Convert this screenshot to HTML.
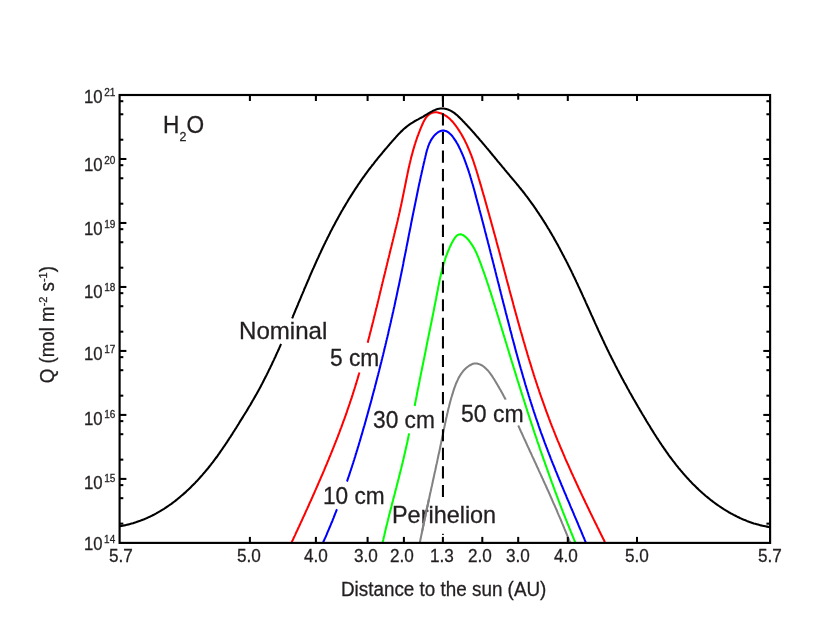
<!DOCTYPE html><html><head><meta charset="utf-8"><title>H2O sublimation</title><style>
html,body{margin:0;padding:0;background:#fff}
body{width:817px;height:632px;position:relative;overflow:hidden;font-family:"Liberation Sans",sans-serif;color:#231f20}
#txt{position:absolute;left:0;top:0;width:817px;height:632px;will-change:transform}
.t{position:absolute;white-space:nowrap;line-height:1;margin:0;padding:0;transform-origin:0 0;-webkit-text-stroke:0.3px #231f20}
</style></head><body>
<svg width="817" height="632" viewBox="0 0 817 632" style="position:absolute;left:0;top:0">
<rect width="817" height="632" fill="#fff"/>
<clipPath id="cp"><rect x="119.60" y="95.00" width="650.50" height="448.70"/></clipPath>
<g clip-path="url(#cp)">
<path d="M419.8 542.7 L420.1 541.3 L420.4 539.8 L420.7 538.3 L421.0 536.9 L421.3 535.4 L421.6 534.0 L421.9 532.5 L422.2 531.1 L422.5 529.6 L422.8 528.1 L423.1 526.7 L423.4 525.2 L423.7 523.7 L424.0 522.3 L424.3 520.8 L424.6 519.3 L424.9 517.9 L425.3 516.4 L425.6 514.9 L425.9 513.5 L426.2 512.0 L426.5 510.5 L426.8 509.0 L427.1 507.6 L427.5 506.1 L427.8 504.6 L428.1 503.2 L428.4 501.7 L428.7 500.2 L429.1 498.7 L429.4 497.2 L429.7 495.8 L430.0 494.3 L430.3 492.8 L430.7 491.3 L431.0 489.9 L431.3 488.4 L431.6 486.9 L432.0 485.4 L432.3 484.0 L432.6 482.5 L432.9 481.0 L433.2 479.5 L433.6 478.1 L433.9 476.6 L434.2 475.1 L434.5 473.6 L434.8 472.2 L435.2 470.7 L435.5 469.2 L435.8 467.7 L436.1 466.3 L436.4 464.8 L436.8 463.3 L437.1 461.9 L437.4 460.4 L437.7 458.9 L438.0 457.5 L438.3 456.0 L438.6 454.5 L439.0 453.1 L439.3 451.6 L439.6 450.1 L439.9 448.7 L440.2 447.2 L440.5 445.8 L440.8 444.3 L441.1 442.9 L441.4 441.4 L441.7 439.9 L442.0 438.5 L442.3 437.0 L442.6 435.6 L442.9 434.2 L443.2 432.7 L443.5 431.3 L443.8 429.8 L444.1 428.4 L444.4 426.9 L444.7 425.5 L445.0 424.1 L445.3 422.6 L445.6 421.2 L445.9 419.7 L446.2 418.3 L446.6 416.8 L446.9 415.4 L447.2 414.0 L447.6 412.5 L447.9 411.1 L448.2 409.6 L448.6 408.1 L449.0 406.7 L449.3 405.2 L449.7 403.7 L450.1 402.3 L450.5 400.8 L450.9 399.3 L451.3 397.8 L451.8 396.3 L452.2 394.9 L452.7 393.4 L453.1 391.9 L453.6 390.4 L454.1 388.9 L454.6 387.4 L455.2 385.9 L455.7 384.4 L456.3 383.0 L456.9 381.6 L457.6 380.2 L458.2 378.8 L458.9 377.4 L459.7 376.1 L460.4 374.9 L461.3 373.6 L462.1 372.5 L463.0 371.3 L463.9 370.2 L464.9 369.2 L465.9 368.2 L467.0 367.3 L468.1 366.5 L469.3 365.7 L470.5 365.0 L471.8 364.3 L473.1 363.8 L474.4 363.5 L475.8 363.4 L477.1 363.5 L478.5 363.9 L479.8 364.4 L481.1 365.0 L482.4 365.7 L483.5 366.5 L484.7 367.4 L485.8 368.4 L486.8 369.5 L487.9 370.5 L488.8 371.7 L489.8 372.9 L490.7 374.1 L491.6 375.4 L492.5 376.7 L493.3 378.0 L494.2 379.3 L495.0 380.7 L495.8 382.0 L496.6 383.4 L497.4 384.7 L498.2 386.1 L499.0 387.4 L499.7 388.7 L500.5 390.1 L501.2 391.4 L502.0 392.7 L502.7 394.1 L503.4 395.4 L504.1 396.8 L504.9 398.1 L505.6 399.4 L505.6 399.6" fill="none" stroke="#828282" stroke-width="2.05" stroke-linejoin="round"/>
<path d="M518.2 425.6 L518.6 426.3 L519.2 427.6 L519.8 429.0 L520.4 430.3 L521.0 431.7 L521.7 433.0 L522.3 434.4 L522.9 435.7 L523.5 437.1 L524.1 438.4 L524.7 439.8 L525.4 441.1 L526.0 442.5 L526.6 443.8 L527.2 445.2 L527.8 446.5 L528.5 447.9 L529.1 449.3 L529.7 450.6 L530.3 452.0 L531.0 453.3 L531.6 454.7 L532.2 456.1 L532.8 457.4 L533.5 458.8 L534.1 460.1 L534.7 461.5 L535.4 462.9 L536.0 464.2 L536.6 465.6 L537.2 467.0 L537.9 468.3 L538.5 469.7 L539.1 471.1 L539.7 472.4 L540.4 473.8 L541.0 475.2 L541.6 476.5 L542.2 477.9 L542.9 479.3 L543.5 480.7 L544.1 482.0 L544.7 483.4 L545.4 484.8 L546.0 486.1 L546.6 487.5 L547.2 488.9 L547.8 490.3 L548.5 491.6 L549.1 493.0 L549.7 494.4 L550.3 495.8 L550.9 497.1 L551.5 498.5 L552.1 499.9 L552.7 501.3 L553.3 502.7 L553.9 504.0 L554.6 505.4 L555.2 506.8 L555.8 508.2 L556.4 509.5 L557.0 510.9 L557.5 512.3 L558.1 513.7 L558.7 515.1 L559.3 516.4 L559.9 517.8 L560.5 519.2 L561.1 520.6 L561.7 522.0 L562.2 523.3 L562.8 524.7 L563.4 526.1 L564.0 527.5 L564.5 528.9 L565.1 530.3 L565.7 531.6 L566.2 533.0 L566.8 534.4 L567.4 535.8 L567.9 537.2 L568.5 538.6 L569.0 539.9 L569.6 541.3 L570.1 542.7" fill="none" stroke="#828282" stroke-width="2.05" stroke-linejoin="round"/>
<path d="M382.6 542.7 L382.9 541.2 L383.3 539.8 L383.6 538.3 L383.9 536.9 L384.3 535.4 L384.6 533.9 L385.0 532.5 L385.3 531.0 L385.6 529.6 L386.0 528.1 L386.4 526.6 L386.7 525.2 L387.1 523.7 L387.4 522.3 L387.8 520.8 L388.1 519.4 L388.5 517.9 L388.9 516.5 L389.2 515.0 L389.6 513.5 L390.0 512.1 L390.4 510.6 L390.7 509.2 L391.1 507.7 L391.5 506.3 L391.8 504.8 L392.2 503.4 L392.6 501.9 L393.0 500.5 L393.3 499.0 L393.7 497.6 L394.1 496.1 L394.5 494.7 L394.9 493.2 L395.2 491.8 L395.6 490.3 L396.0 488.9 L396.4 487.4 L396.7 486.0 L397.1 484.5 L397.5 483.1 L397.8 481.6 L398.2 480.1 L398.6 478.7 L399.0 477.2 L399.3 475.8 L399.7 474.3 L400.1 472.9 L400.4 471.4 L400.8 470.0 L401.2 468.5 L401.5 467.1 L401.9 465.6 L402.2 464.1 L402.6 462.7 L402.9 461.2 L403.3 459.8 L403.6 458.3 L404.0 456.9 L404.3 455.4 L404.6 453.9 L405.0 452.5 L405.3 451.0 L405.6 449.5 L406.0 448.1 L406.3 446.6 L406.6 445.2 L406.9 443.7 L407.3 442.2 L407.6 440.8 L407.9 439.3 L408.2 437.8 L408.5 436.4 L408.8 434.9 L409.1 433.4 L409.1 433.4" fill="none" stroke="#00ff00" stroke-width="2.05" stroke-linejoin="round"/>
<path d="M414.7 405.9 L414.8 405.5 L415.0 404.0 L415.3 402.5 L415.6 401.1 L415.9 399.6 L416.2 398.1 L416.5 396.7 L416.8 395.2 L417.0 393.7 L417.3 392.2 L417.6 390.8 L417.9 389.3 L418.2 387.8 L418.5 386.4 L418.8 384.9 L419.1 383.4 L419.4 381.9 L419.6 380.5 L419.9 379.0 L420.2 377.5 L420.5 376.1 L420.8 374.6 L421.1 373.1 L421.4 371.6 L421.7 370.2 L422.0 368.7 L422.3 367.2 L422.6 365.8 L422.9 364.3 L423.2 362.8 L423.5 361.4 L423.8 359.9 L424.1 358.4 L424.4 357.0 L424.7 355.5 L425.0 354.0 L425.3 352.6 L425.6 351.1 L425.9 349.6 L426.2 348.1 L426.4 346.7 L426.7 345.2 L427.0 343.7 L427.3 342.3 L427.6 340.8 L427.9 339.3 L428.2 337.9 L428.5 336.4 L428.8 334.9 L429.1 333.5 L429.4 332.0 L429.7 330.5 L430.0 329.1 L430.3 327.6 L430.6 326.1 L430.9 324.7 L431.2 323.2 L431.5 321.7 L431.8 320.2 L432.1 318.8 L432.4 317.3 L432.7 315.8 L433.0 314.4 L433.3 312.9 L433.6 311.4 L433.9 310.0 L434.1 308.5 L434.4 307.0 L434.7 305.5 L435.0 304.1 L435.3 302.6 L435.6 301.1 L435.9 299.7 L436.2 298.2 L436.4 296.7 L436.7 295.2 L437.0 293.8 L437.3 292.3 L437.6 290.8 L437.9 289.4 L438.1 287.9 L438.4 286.4 L438.7 284.9 L439.0 283.5 L439.3 282.0 L439.6 280.5 L439.9 279.1 L440.2 277.6 L440.6 276.1 L440.9 274.7 L441.2 273.2 L441.6 271.7 L442.0 270.3 L442.3 268.8 L442.7 267.3 L443.1 265.9 L443.5 264.4 L444.0 263.0 L444.4 261.5 L444.9 260.1 L445.3 258.6 L445.8 257.2 L446.3 255.7 L446.9 254.3 L447.4 252.9 L448.0 251.4 L448.6 250.0 L449.2 248.6 L449.8 247.1 L450.5 245.7 L451.2 244.3 L451.9 242.9 L452.6 241.5 L453.4 240.2 L454.2 238.9 L455.0 237.7 L455.8 236.7 L456.7 235.8 L457.6 235.1 L458.6 234.6 L459.6 234.4 L460.6 234.3 L461.7 234.6 L462.8 235.0 L463.9 235.6 L465.0 236.5 L466.1 237.4 L467.2 238.5 L468.2 239.7 L469.3 241.0 L470.3 242.3 L471.2 243.7 L472.2 245.1 L473.0 246.4 L473.8 247.8 L474.6 249.2 L475.3 250.6 L476.0 252.0 L476.6 253.4 L477.2 254.8 L477.8 256.2 L478.4 257.6 L478.9 259.0 L479.5 260.4 L480.0 261.8 L480.5 263.2 L481.1 264.6 L481.6 266.1 L482.1 267.5 L482.6 268.9 L483.1 270.3 L483.6 271.7 L484.1 273.1 L484.6 274.5 L485.1 276.0 L485.6 277.4 L486.1 278.8 L486.6 280.2 L487.0 281.6 L487.5 283.0 L488.0 284.5 L488.5 285.9 L488.9 287.3 L489.4 288.7 L489.8 290.1 L490.3 291.6 L490.8 293.0 L491.2 294.4 L491.7 295.8 L492.1 297.3 L492.6 298.7 L493.0 300.1 L493.4 301.5 L493.9 303.0 L494.3 304.4 L494.8 305.8 L495.2 307.2 L495.7 308.7 L496.1 310.1 L496.5 311.5 L497.0 313.0 L497.4 314.4 L497.9 315.8 L498.3 317.2 L498.7 318.7 L499.2 320.1 L499.6 321.5 L500.0 323.0 L500.5 324.4 L500.9 325.8 L501.4 327.3 L501.8 328.7 L502.2 330.1 L502.7 331.6 L503.1 333.0 L503.5 334.4 L504.0 335.9 L504.4 337.3 L504.9 338.7 L505.3 340.2 L505.7 341.6 L506.2 343.0 L506.6 344.5 L507.0 345.9 L507.5 347.3 L507.9 348.8 L508.4 350.2 L508.8 351.7 L509.2 353.1 L509.7 354.5 L510.1 356.0 L510.5 357.4 L511.0 358.8 L511.4 360.3 L511.9 361.7 L512.3 363.1 L512.8 364.6 L513.2 366.0 L513.6 367.4 L514.1 368.9 L514.5 370.3 L515.0 371.7 L515.4 373.2 L515.9 374.6 L516.3 376.0 L516.7 377.5 L517.2 378.9 L517.6 380.3 L518.1 381.8 L518.5 383.2 L519.0 384.6 L519.4 386.1 L519.9 387.5 L520.3 388.9 L520.8 390.4 L521.2 391.8 L521.7 393.2 L522.1 394.7 L522.6 396.1 L523.0 397.5 L523.5 398.9 L524.0 400.4 L524.4 401.8 L524.9 403.2 L525.3 404.7 L525.8 406.1 L526.2 407.5 L526.7 408.9 L527.2 410.4 L527.6 411.8 L528.1 413.2 L528.5 414.6 L529.0 416.1 L529.5 417.5 L529.9 418.9 L530.4 420.3 L530.9 421.8 L531.3 423.2 L531.8 424.6 L532.3 426.0 L532.8 427.5 L533.2 428.9 L533.7 430.3 L534.2 431.7 L534.6 433.1 L535.1 434.6 L535.6 436.0 L536.1 437.4 L536.6 438.8 L537.0 440.2 L537.5 441.7 L538.0 443.1 L538.5 444.5 L539.0 445.9 L539.5 447.3 L539.9 448.7 L540.4 450.2 L540.9 451.6 L541.4 453.0 L541.9 454.4 L542.4 455.8 L542.9 457.2 L543.4 458.7 L543.9 460.1 L544.4 461.5 L544.9 462.9 L545.4 464.3 L545.9 465.7 L546.4 467.1 L546.9 468.5 L547.4 469.9 L547.9 471.4 L548.4 472.8 L548.9 474.2 L549.4 475.6 L549.9 477.0 L550.4 478.4 L550.9 479.8 L551.4 481.2 L551.9 482.6 L552.5 484.0 L553.0 485.4 L553.5 486.8 L554.0 488.3 L554.5 489.7 L555.0 491.1 L555.6 492.5 L556.1 493.9 L556.6 495.3 L557.2 496.7 L557.7 498.1 L558.2 499.5 L558.7 500.9 L559.3 502.3 L559.8 503.7 L560.3 505.1 L560.9 506.5 L561.4 507.9 L562.0 509.3 L562.5 510.7 L563.0 512.1 L563.6 513.5 L564.1 514.9 L564.7 516.3 L565.2 517.7 L565.8 519.1 L566.3 520.4 L566.9 521.8 L567.4 523.2 L568.0 524.6 L568.6 526.0 L569.1 527.4 L569.7 528.8 L570.3 530.2 L570.8 531.6 L571.4 533.0 L572.0 534.4 L572.5 535.8 L573.1 537.1 L573.7 538.5 L574.2 539.9 L574.8 541.3 L575.4 542.7" fill="none" stroke="#00ff00" stroke-width="2.05" stroke-linejoin="round"/>
<path d="M291.5 542.7 L292.1 541.3 L292.8 540.0 L293.4 538.6 L294.0 537.3 L294.7 535.9 L295.3 534.6 L295.9 533.2 L296.5 531.8 L297.2 530.5 L297.8 529.1 L298.4 527.8 L299.1 526.4 L299.7 525.0 L300.3 523.7 L300.9 522.3 L301.6 521.0 L302.2 519.6 L302.8 518.2 L303.4 516.9 L304.1 515.5 L304.7 514.2 L305.3 512.8 L305.9 511.4 L306.5 510.1 L307.2 508.7 L307.8 507.3 L308.4 506.0 L309.0 504.6 L309.6 503.2 L310.2 501.9 L310.9 500.5 L311.5 499.1 L312.1 497.8 L312.7 496.4 L313.3 495.0 L313.9 493.7 L314.5 492.3 L315.1 490.9 L315.7 489.6 L316.3 488.2 L316.9 486.8 L317.5 485.5 L318.1 484.1 L318.7 482.7 L319.3 481.3 L319.9 480.0 L320.5 478.6 L321.1 477.2 L321.7 475.8 L322.3 474.5 L322.9 473.1 L323.5 471.7 L324.1 470.3 L324.6 469.0 L325.2 467.6 L325.8 466.2 L326.4 464.8 L327.0 463.4 L327.5 462.1 L328.1 460.7 L328.7 459.3 L329.2 457.9 L329.8 456.5 L330.4 455.1 L330.9 453.7 L331.5 452.4 L332.1 451.0 L332.6 449.6 L333.2 448.2 L333.7 446.8 L334.3 445.4 L334.8 444.0 L335.4 442.6 L335.9 441.2 L336.5 439.9 L337.0 438.5 L337.6 437.1 L338.1 435.7 L338.6 434.3 L339.2 432.9 L339.7 431.5 L340.2 430.1 L340.7 428.7 L341.3 427.3 L341.8 425.9 L342.3 424.5 L342.8 423.1 L343.3 421.7 L343.8 420.3 L344.4 418.9 L344.9 417.4 L345.4 416.0 L345.9 414.6 L346.4 413.2 L346.9 411.8 L347.3 410.4 L347.8 409.0 L348.3 407.6 L348.8 406.2 L349.3 404.7 L349.8 403.3 L350.2 401.9 L350.7 400.5 L351.2 399.1 L351.7 397.6 L352.1 396.2 L352.6 394.8 L353.0 393.4 L353.5 391.9 L353.9 390.5 L354.4 389.1 L354.8 387.7 L355.3 386.2 L355.7 384.8 L356.2 383.4 L356.6 381.9 L357.0 380.5 L357.5 379.1 L357.9 377.6 L358.3 376.2 L358.7 374.8 L359.2 373.3 L359.4 372.5" fill="none" stroke="#ff0000" stroke-width="2.05" stroke-linejoin="round"/>
<path d="M367.7 342.7 L368.0 341.6 L368.3 340.1 L368.7 338.7 L369.1 337.2 L369.5 335.7 L369.8 334.3 L370.2 332.8 L370.6 331.4 L371.0 329.9 L371.3 328.5 L371.7 327.0 L372.1 325.6 L372.4 324.1 L372.8 322.7 L373.2 321.2 L373.5 319.8 L373.9 318.3 L374.2 316.8 L374.6 315.4 L375.0 313.9 L375.3 312.5 L375.7 311.0 L376.0 309.6 L376.4 308.1 L376.8 306.7 L377.1 305.2 L377.5 303.7 L377.8 302.3 L378.2 300.8 L378.5 299.4 L378.9 297.9 L379.2 296.5 L379.6 295.0 L379.9 293.5 L380.3 292.1 L380.6 290.6 L381.0 289.2 L381.3 287.7 L381.7 286.3 L382.0 284.8 L382.4 283.3 L382.7 281.9 L383.1 280.4 L383.4 279.0 L383.8 277.5 L384.2 276.1 L384.5 274.6 L384.9 273.2 L385.2 271.7 L385.6 270.3 L385.9 268.8 L386.3 267.3 L386.6 265.9 L387.0 264.4 L387.3 263.0 L387.7 261.5 L388.0 260.1 L388.4 258.6 L388.8 257.2 L389.1 255.7 L389.5 254.3 L389.8 252.8 L390.2 251.4 L390.5 249.9 L390.9 248.5 L391.3 247.0 L391.6 245.6 L392.0 244.1 L392.3 242.7 L392.7 241.2 L393.0 239.8 L393.4 238.3 L393.7 236.9 L394.1 235.4 L394.4 234.0 L394.8 232.5 L395.1 231.1 L395.5 229.6 L395.8 228.2 L396.2 226.7 L396.5 225.3 L396.9 223.8 L397.2 222.4 L397.6 220.9 L397.9 219.5 L398.2 218.0 L398.6 216.5 L398.9 215.1 L399.2 213.6 L399.6 212.2 L399.9 210.7 L400.2 209.2 L400.5 207.8 L400.9 206.3 L401.2 204.8 L401.5 203.4 L401.8 201.9 L402.1 200.4 L402.4 199.0 L402.7 197.5 L403.0 196.0 L403.3 194.5 L403.6 193.1 L403.9 191.6 L404.2 190.1 L404.5 188.6 L404.8 187.2 L405.1 185.7 L405.4 184.2 L405.7 182.7 L406.0 181.3 L406.3 179.8 L406.6 178.3 L406.9 176.8 L407.2 175.4 L407.5 173.9 L407.8 172.4 L408.1 171.0 L408.4 169.5 L408.7 168.0 L409.1 166.6 L409.4 165.1 L409.7 163.6 L410.1 162.2 L410.4 160.7 L410.8 159.3 L411.1 157.8 L411.5 156.4 L411.9 154.9 L412.3 153.5 L412.7 152.1 L413.0 150.6 L413.5 149.2 L413.9 147.8 L414.3 146.4 L414.7 144.9 L415.2 143.5 L415.6 142.1 L416.1 140.7 L416.6 139.3 L417.0 137.9 L417.5 136.5 L418.1 135.1 L418.6 133.7 L419.1 132.3 L419.7 130.9 L420.2 129.5 L420.8 128.1 L421.4 126.7 L422.0 125.3 L422.7 123.8 L423.3 122.4 L424.0 121.0 L424.7 119.7 L425.5 118.4 L426.4 117.1 L427.4 116.0 L428.4 115.0 L429.6 114.1 L430.9 113.4 L432.2 112.8 L433.5 112.4 L435.0 112.3 L436.4 112.3 L437.9 112.5 L439.3 112.9 L440.7 113.3 L442.1 113.8 L443.4 114.4 L444.7 115.1 L445.9 115.9 L447.1 116.7 L448.3 117.6 L449.4 118.6 L450.5 119.6 L451.6 120.7 L452.6 121.8 L453.6 122.9 L454.5 124.1 L455.5 125.4 L456.4 126.6 L457.3 127.8 L458.1 129.1 L459.0 130.4 L459.8 131.7 L460.6 133.0 L461.4 134.3 L462.1 135.6 L462.9 136.9 L463.6 138.2 L464.3 139.5 L465.0 140.9 L465.6 142.2 L466.3 143.6 L466.9 144.9 L467.5 146.3 L468.1 147.6 L468.7 149.0 L469.3 150.4 L469.9 151.8 L470.4 153.2 L471.0 154.5 L471.5 155.9 L472.0 157.3 L472.5 158.7 L473.0 160.1 L473.5 161.5 L474.0 163.0 L474.4 164.4 L474.9 165.8 L475.4 167.2 L475.8 168.6 L476.3 170.0 L476.7 171.5 L477.1 172.9 L477.6 174.3 L478.0 175.8 L478.4 177.2 L478.8 178.6 L479.3 180.1 L479.7 181.5 L480.1 182.9 L480.5 184.4 L481.0 185.8 L481.4 187.2 L481.8 188.7 L482.2 190.1 L482.6 191.5 L483.0 193.0 L483.4 194.4 L483.9 195.8 L484.3 197.3 L484.7 198.7 L485.1 200.2 L485.5 201.6 L485.9 203.0 L486.3 204.5 L486.7 205.9 L487.1 207.4 L487.5 208.8 L487.9 210.2 L488.3 211.7 L488.7 213.1 L489.1 214.6 L489.5 216.0 L489.9 217.5 L490.3 218.9 L490.7 220.3 L491.1 221.8 L491.5 223.2 L491.9 224.7 L492.3 226.1 L492.7 227.6 L493.1 229.0 L493.5 230.5 L493.9 231.9 L494.3 233.4 L494.7 234.8 L495.1 236.2 L495.5 237.7 L495.9 239.1 L496.3 240.6 L496.6 242.0 L497.0 243.5 L497.4 244.9 L497.8 246.4 L498.2 247.8 L498.6 249.3 L499.0 250.7 L499.4 252.2 L499.8 253.6 L500.2 255.1 L500.5 256.5 L500.9 258.0 L501.3 259.4 L501.7 260.9 L502.1 262.3 L502.5 263.8 L502.9 265.2 L503.3 266.7 L503.6 268.1 L504.0 269.6 L504.4 271.0 L504.8 272.5 L505.2 273.9 L505.6 275.4 L506.0 276.8 L506.3 278.3 L506.7 279.7 L507.1 281.2 L507.5 282.6 L507.9 284.0 L508.3 285.5 L508.7 286.9 L509.1 288.4 L509.4 289.8 L509.8 291.3 L510.2 292.7 L510.6 294.2 L511.0 295.6 L511.4 297.1 L511.8 298.5 L512.2 300.0 L512.6 301.4 L513.0 302.9 L513.3 304.3 L513.7 305.8 L514.1 307.2 L514.5 308.7 L514.9 310.1 L515.3 311.6 L515.7 313.0 L516.1 314.4 L516.5 315.9 L516.9 317.3 L517.3 318.8 L517.7 320.2 L518.1 321.7 L518.5 323.1 L518.9 324.6 L519.3 326.0 L519.7 327.4 L520.1 328.9 L520.5 330.3 L520.9 331.8 L521.4 333.2 L521.8 334.6 L522.2 336.1 L522.6 337.5 L523.0 339.0 L523.4 340.4 L523.8 341.8 L524.3 343.3 L524.7 344.7 L525.1 346.1 L525.5 347.6 L525.9 349.0 L526.4 350.5 L526.8 351.9 L527.2 353.3 L527.6 354.8 L528.1 356.2 L528.5 357.6 L528.9 359.1 L529.4 360.5 L529.8 361.9 L530.3 363.4 L530.7 364.8 L531.1 366.2 L531.6 367.6 L532.0 369.1 L532.5 370.5 L532.9 371.9 L533.4 373.3 L533.8 374.8 L534.3 376.2 L534.7 377.6 L535.2 379.0 L535.7 380.5 L536.1 381.9 L536.6 383.3 L537.1 384.7 L537.5 386.1 L538.0 387.6 L538.5 389.0 L539.0 390.4 L539.4 391.8 L539.9 393.2 L540.4 394.7 L540.9 396.1 L541.4 397.5 L541.9 398.9 L542.4 400.3 L542.9 401.7 L543.4 403.1 L543.9 404.5 L544.4 405.9 L544.9 407.3 L545.4 408.8 L545.9 410.2 L546.4 411.6 L546.9 413.0 L547.5 414.4 L548.0 415.8 L548.5 417.2 L549.0 418.6 L549.6 420.0 L550.1 421.4 L550.6 422.8 L551.2 424.2 L551.7 425.6 L552.3 427.0 L552.8 428.3 L553.4 429.7 L553.9 431.1 L554.5 432.5 L555.0 433.9 L555.6 435.3 L556.1 436.7 L556.7 438.1 L557.3 439.5 L557.8 440.8 L558.4 442.2 L559.0 443.6 L559.6 445.0 L560.1 446.4 L560.7 447.8 L561.3 449.1 L561.9 450.5 L562.5 451.9 L563.1 453.3 L563.7 454.7 L564.3 456.0 L564.8 457.4 L565.4 458.8 L566.0 460.2 L566.6 461.5 L567.2 462.9 L567.9 464.3 L568.5 465.6 L569.1 467.0 L569.7 468.4 L570.3 469.7 L570.9 471.1 L571.5 472.5 L572.1 473.8 L572.8 475.2 L573.4 476.6 L574.0 477.9 L574.6 479.3 L575.3 480.7 L575.9 482.0 L576.5 483.4 L577.1 484.8 L577.8 486.1 L578.4 487.5 L579.0 488.8 L579.7 490.2 L580.3 491.5 L580.9 492.9 L581.6 494.3 L582.2 495.6 L582.9 497.0 L583.5 498.3 L584.2 499.7 L584.8 501.0 L585.4 502.4 L586.1 503.7 L586.7 505.1 L587.4 506.4 L588.0 507.8 L588.7 509.1 L589.3 510.5 L590.0 511.8 L590.6 513.2 L591.3 514.5 L592.0 515.9 L592.6 517.2 L593.3 518.6 L593.9 519.9 L594.6 521.3 L595.2 522.6 L595.9 523.9 L596.6 525.3 L597.2 526.6 L597.9 528.0 L598.6 529.3 L599.2 530.7 L599.9 532.0 L600.5 533.3 L601.2 534.7 L601.9 536.0 L602.5 537.3 L603.2 538.7 L603.9 540.0 L604.5 541.4 L605.2 542.7" fill="none" stroke="#ff0000" stroke-width="2.05" stroke-linejoin="round"/>
<path d="M323.0 542.7 L323.6 541.3 L324.2 540.0 L324.8 538.6 L325.5 537.2 L326.1 535.8 L326.7 534.4 L327.2 533.1 L327.8 531.7 L328.4 530.3 L329.0 528.9 L329.6 527.5 L330.2 526.1 L330.8 524.7 L331.3 523.4 L331.9 522.0 L332.5 520.6 L333.0 519.2 L333.6 517.8 L334.1 516.4 L334.7 515.0 L335.2 513.6 L335.8 512.2 L336.3 510.8 L336.9 509.4 L337.0 509.2" fill="none" stroke="#0000ff" stroke-width="2.05" stroke-linejoin="round"/>
<path d="M347.0 481.6 L347.1 481.3 L347.5 479.9 L348.0 478.4 L348.5 477.0 L349.0 475.6 L349.5 474.2 L349.9 472.8 L350.4 471.3 L350.9 469.9 L351.3 468.5 L351.8 467.1 L352.2 465.7 L352.7 464.2 L353.2 462.8 L353.6 461.4 L354.1 460.0 L354.5 458.5 L355.0 457.1 L355.4 455.7 L355.8 454.2 L356.3 452.8 L356.7 451.4 L357.2 449.9 L357.6 448.5 L358.0 447.1 L358.5 445.6 L358.9 444.2 L359.3 442.8 L359.8 441.3 L360.2 439.9 L360.6 438.5 L361.0 437.0 L361.4 435.6 L361.9 434.2 L362.3 432.7 L362.7 431.3 L363.1 429.8 L363.5 428.4 L363.9 427.0 L364.4 425.5 L364.8 424.1 L365.2 422.6 L365.6 421.2 L366.0 419.8 L366.4 418.3 L366.8 416.9 L367.2 415.4 L367.6 414.0 L368.0 412.5 L368.4 411.1 L368.8 409.6 L369.2 408.2 L369.6 406.8 L370.0 405.3 L370.4 403.9 L370.8 402.4 L371.2 401.0 L371.6 399.5 L372.0 398.1 L372.3 396.6 L372.7 395.2 L373.1 393.7 L373.5 392.3 L373.9 390.8 L374.3 389.4 L374.7 387.9 L375.0 386.5 L375.4 385.0 L375.8 383.6 L376.2 382.1 L376.6 380.6 L376.9 379.2 L377.3 377.7 L377.7 376.3 L378.1 374.8 L378.4 373.4 L378.8 371.9 L379.2 370.5 L379.5 369.0 L379.9 367.6 L380.3 366.1 L380.6 364.6 L381.0 363.2 L381.4 361.7 L381.7 360.3 L382.1 358.8 L382.4 357.4 L382.8 355.9 L383.2 354.4 L383.5 353.0 L383.9 351.5 L384.2 350.1 L384.6 348.6 L384.9 347.1 L385.3 345.7 L385.6 344.2 L386.0 342.8 L386.3 341.3 L386.7 339.8 L387.0 338.4 L387.4 336.9 L387.7 335.5 L388.1 334.0 L388.4 332.5 L388.7 331.1 L389.1 329.6 L389.4 328.1 L389.7 326.7 L390.1 325.2 L390.4 323.8 L390.8 322.3 L391.1 320.8 L391.4 319.4 L391.7 317.9 L392.1 316.4 L392.4 315.0 L392.7 313.5 L393.1 312.0 L393.4 310.6 L393.7 309.1 L394.0 307.7 L394.4 306.2 L394.7 304.7 L395.0 303.3 L395.3 301.8 L395.6 300.3 L396.0 298.9 L396.3 297.4 L396.6 295.9 L396.9 294.5 L397.2 293.0 L397.5 291.5 L397.8 290.1 L398.1 288.6 L398.5 287.1 L398.8 285.7 L399.1 284.2 L399.4 282.8 L399.7 281.3 L400.0 279.8 L400.3 278.4 L400.6 276.9 L400.9 275.4 L401.2 274.0 L401.5 272.5 L401.8 271.0 L402.1 269.6 L402.4 268.1 L402.7 266.6 L403.0 265.2 L403.3 263.7 L403.5 262.2 L403.8 260.8 L404.1 259.3 L404.4 257.8 L404.7 256.4 L405.0 254.9 L405.3 253.4 L405.6 252.0 L405.9 250.5 L406.2 249.0 L406.4 247.6 L406.7 246.1 L407.0 244.7 L407.3 243.2 L407.6 241.7 L407.9 240.3 L408.2 238.8 L408.5 237.3 L408.7 235.9 L409.0 234.4 L409.3 232.9 L409.6 231.5 L409.9 230.0 L410.2 228.5 L410.5 227.1 L410.8 225.6 L411.0 224.1 L411.3 222.7 L411.6 221.2 L411.9 219.7 L412.2 218.3 L412.5 216.8 L412.8 215.3 L413.1 213.8 L413.4 212.4 L413.7 210.9 L414.0 209.4 L414.3 208.0 L414.6 206.5 L414.9 205.0 L415.2 203.6 L415.5 202.1 L415.8 200.6 L416.1 199.2 L416.4 197.7 L416.7 196.2 L417.0 194.8 L417.3 193.3 L417.6 191.8 L417.9 190.3 L418.2 188.9 L418.5 187.4 L418.8 185.9 L419.1 184.5 L419.4 183.0 L419.8 181.5 L420.1 180.0 L420.4 178.6 L420.7 177.1 L421.0 175.6 L421.4 174.2 L421.7 172.7 L422.0 171.2 L422.4 169.7 L422.7 168.3 L423.0 166.8 L423.4 165.3 L423.7 163.8 L424.0 162.4 L424.4 160.9 L424.7 159.4 L425.1 158.0 L425.4 156.5 L425.8 155.0 L426.1 153.5 L426.5 152.1 L426.9 150.6 L427.3 149.2 L427.8 147.7 L428.2 146.3 L428.8 144.9 L429.3 143.5 L430.0 142.2 L430.6 140.9 L431.4 139.6 L432.2 138.3 L433.1 137.1 L434.0 135.9 L435.1 134.8 L436.2 133.7 L437.4 132.8 L438.6 131.9 L440.0 131.3 L441.3 130.8 L442.7 130.6 L444.0 130.6 L445.4 130.9 L446.7 131.3 L447.9 132.0 L449.1 132.9 L450.2 133.9 L451.3 135.0 L452.3 136.2 L453.3 137.5 L454.2 138.8 L455.1 140.1 L456.0 141.4 L456.7 142.7 L457.5 144.0 L458.2 145.3 L458.9 146.7 L459.5 148.0 L460.2 149.3 L460.8 150.7 L461.4 152.0 L462.0 153.4 L462.6 154.8 L463.2 156.1 L463.7 157.5 L464.3 158.9 L464.8 160.3 L465.3 161.7 L465.8 163.1 L466.3 164.5 L466.8 165.9 L467.3 167.3 L467.8 168.7 L468.3 170.1 L468.8 171.6 L469.2 173.0 L469.7 174.4 L470.1 175.8 L470.5 177.3 L471.0 178.7 L471.4 180.2 L471.8 181.6 L472.2 183.0 L472.7 184.5 L473.1 185.9 L473.5 187.4 L473.9 188.8 L474.3 190.3 L474.7 191.7 L475.1 193.2 L475.5 194.6 L475.8 196.1 L476.2 197.5 L476.6 199.0 L477.0 200.4 L477.4 201.9 L477.8 203.4 L478.2 204.8 L478.6 206.3 L479.0 207.7 L479.3 209.2 L479.7 210.6 L480.1 212.1 L480.5 213.5 L480.9 215.0 L481.3 216.4 L481.6 217.9 L482.0 219.3 L482.4 220.8 L482.8 222.2 L483.2 223.7 L483.5 225.1 L483.9 226.6 L484.3 228.0 L484.7 229.5 L485.0 230.9 L485.4 232.4 L485.8 233.8 L486.2 235.3 L486.5 236.7 L486.9 238.2 L487.3 239.6 L487.7 241.1 L488.0 242.5 L488.4 244.0 L488.8 245.4 L489.2 246.9 L489.5 248.3 L489.9 249.8 L490.3 251.2 L490.6 252.7 L491.0 254.1 L491.4 255.6 L491.7 257.0 L492.1 258.5 L492.5 259.9 L492.9 261.4 L493.2 262.8 L493.6 264.3 L494.0 265.7 L494.3 267.2 L494.7 268.6 L495.1 270.1 L495.4 271.5 L495.8 273.0 L496.2 274.5 L496.5 275.9 L496.9 277.4 L497.3 278.8 L497.6 280.3 L498.0 281.7 L498.4 283.2 L498.7 284.6 L499.1 286.1 L499.5 287.5 L499.8 289.0 L500.2 290.4 L500.6 291.9 L500.9 293.3 L501.3 294.8 L501.7 296.2 L502.0 297.7 L502.4 299.1 L502.8 300.6 L503.1 302.1 L503.5 303.5 L503.9 305.0 L504.3 306.4 L504.6 307.9 L505.0 309.3 L505.4 310.8 L505.7 312.2 L506.1 313.7 L506.5 315.1 L506.9 316.6 L507.2 318.0 L507.6 319.5 L508.0 320.9 L508.4 322.4 L508.7 323.9 L509.1 325.3 L509.5 326.8 L509.9 328.2 L510.2 329.7 L510.6 331.1 L511.0 332.6 L511.4 334.0 L511.8 335.5 L512.1 336.9 L512.5 338.4 L512.9 339.8 L513.3 341.3 L513.7 342.7 L514.1 344.2 L514.5 345.6 L514.8 347.1 L515.2 348.5 L515.6 350.0 L516.0 351.4 L516.4 352.9 L516.8 354.3 L517.2 355.8 L517.6 357.2 L518.0 358.7 L518.4 360.1 L518.8 361.6 L519.2 363.0 L519.6 364.5 L520.0 365.9 L520.4 367.3 L520.8 368.8 L521.3 370.2 L521.7 371.7 L522.1 373.1 L522.5 374.6 L522.9 376.0 L523.3 377.4 L523.8 378.9 L524.2 380.3 L524.6 381.8 L525.0 383.2 L525.4 384.6 L525.9 386.1 L526.3 387.5 L526.7 388.9 L527.2 390.4 L527.6 391.8 L528.1 393.2 L528.5 394.7 L528.9 396.1 L529.4 397.5 L529.8 399.0 L530.3 400.4 L530.7 401.8 L531.2 403.3 L531.6 404.7 L532.1 406.1 L532.6 407.5 L533.0 409.0 L533.5 410.4 L533.9 411.8 L534.4 413.2 L534.9 414.7 L535.4 416.1 L535.8 417.5 L536.3 418.9 L536.8 420.3 L537.3 421.8 L537.8 423.2 L538.3 424.6 L538.7 426.0 L539.2 427.4 L539.7 428.8 L540.2 430.2 L540.7 431.7 L541.2 433.1 L541.8 434.5 L542.3 435.9 L542.8 437.3 L543.3 438.7 L543.8 440.1 L544.3 441.5 L544.8 442.9 L545.4 444.3 L545.9 445.7 L546.4 447.1 L547.0 448.5 L547.5 449.9 L548.0 451.3 L548.6 452.7 L549.1 454.1 L549.7 455.5 L550.2 456.9 L550.7 458.3 L551.3 459.7 L551.8 461.1 L552.4 462.5 L552.9 463.9 L553.5 465.2 L554.1 466.6 L554.6 468.0 L555.2 469.4 L555.7 470.8 L556.3 472.2 L556.9 473.6 L557.4 475.0 L558.0 476.4 L558.6 477.7 L559.1 479.1 L559.7 480.5 L560.3 481.9 L560.9 483.3 L561.4 484.7 L562.0 486.0 L562.6 487.4 L563.2 488.8 L563.7 490.2 L564.3 491.6 L564.9 493.0 L565.5 494.3 L566.1 495.7 L566.6 497.1 L567.2 498.5 L567.8 499.9 L568.4 501.2 L569.0 502.6 L569.6 504.0 L570.1 505.4 L570.7 506.8 L571.3 508.2 L571.9 509.5 L572.5 510.9 L573.1 512.3 L573.7 513.7 L574.2 515.1 L574.8 516.4 L575.4 517.8 L576.0 519.2 L576.6 520.6 L577.2 522.0 L577.8 523.3 L578.3 524.7 L578.9 526.1 L579.5 527.5 L580.1 528.9 L580.7 530.2 L581.3 531.6 L581.8 533.0 L582.4 534.4 L583.0 535.8 L583.6 537.2 L584.2 538.5 L584.7 539.9 L585.3 541.3 L585.9 542.7" fill="none" stroke="#0000ff" stroke-width="2.05" stroke-linejoin="round"/>
<path d="M119.7 526.2 L121.2 525.9 L122.7 525.7 L124.2 525.4 L125.7 525.1 L127.1 524.7 L128.6 524.4 L130.1 524.0 L131.5 523.6 L133.0 523.2 L134.4 522.7 L135.8 522.3 L137.2 521.8 L138.7 521.3 L140.1 520.8 L141.4 520.3 L142.8 519.7 L144.2 519.2 L145.6 518.6 L147.0 518.0 L148.3 517.4 L149.7 516.8 L151.0 516.1 L152.3 515.5 L153.7 514.8 L155.0 514.1 L156.3 513.4 L157.6 512.6 L158.9 511.9 L160.2 511.2 L161.4 510.4 L162.7 509.6 L164.0 508.8 L165.2 508.0 L166.5 507.2 L167.7 506.3 L168.9 505.5 L170.2 504.6 L171.4 503.8 L172.6 502.9 L173.8 502.0 L175.0 501.1 L176.2 500.1 L177.3 499.2 L178.5 498.2 L179.7 497.3 L180.8 496.3 L182.0 495.3 L183.1 494.4 L184.2 493.4 L185.4 492.4 L186.5 491.3 L187.6 490.3 L188.7 489.3 L189.8 488.2 L190.8 487.2 L191.9 486.1 L193.0 485.0 L194.0 484.0 L195.1 482.9 L196.1 481.8 L197.2 480.7 L198.2 479.6 L199.2 478.5 L200.2 477.3 L201.2 476.2 L202.2 475.1 L203.2 473.9 L204.2 472.8 L205.2 471.6 L206.1 470.5 L207.1 469.3 L208.1 468.2 L209.0 467.0 L209.9 465.8 L210.9 464.6 L211.8 463.4 L212.7 462.3 L213.6 461.1 L214.5 459.9 L215.4 458.7 L216.3 457.5 L217.2 456.3 L218.0 455.1 L218.9 453.9 L219.8 452.6 L220.6 451.4 L221.5 450.2 L222.3 449.0 L223.2 447.7 L224.0 446.5 L224.8 445.3 L225.7 444.0 L226.5 442.8 L227.3 441.6 L228.1 440.3 L228.9 439.1 L229.7 437.8 L230.6 436.6 L231.4 435.3 L232.2 434.1 L233.0 432.8 L233.8 431.5 L234.6 430.3 L235.4 429.0 L236.2 427.8 L237.0 426.5 L237.8 425.2 L238.6 424.0 L239.3 422.7 L240.1 421.4 L240.9 420.1 L241.7 418.9 L242.5 417.6 L243.3 416.3 L244.1 415.0 L244.9 413.7 L245.7 412.5 L246.5 411.2 L247.3 409.9 L248.0 408.6 L248.8 407.3 L249.6 406.0 L250.4 404.7 L251.1 403.4 L251.9 402.1 L252.6 400.8 L253.4 399.5 L254.1 398.2 L254.9 396.9 L255.6 395.6 L256.4 394.3 L257.1 393.0 L257.8 391.7 L258.5 390.4 L259.3 389.0 L260.0 387.7 L260.7 386.4 L261.4 385.1 L262.1 383.8 L262.8 382.4 L263.5 381.1 L264.1 379.8 L264.8 378.4 L265.5 377.1 L266.2 375.8 L266.9 374.4 L267.5 373.1 L268.2 371.7 L268.8 370.4 L269.5 369.0 L270.2 367.7 L270.8 366.3 L271.5 365.0 L272.1 363.6 L272.7 362.3 L273.4 360.9 L274.0 359.6 L274.6 358.2 L275.3 356.9 L275.9 355.5 L276.5 354.1 L277.1 352.8 L277.8 351.4 L278.4 350.0 L279.0 348.7 L279.6 347.3 L280.2 345.9 L280.8 344.6 L281.1 344.0" fill="none" stroke="#000000" stroke-width="2.1" stroke-linejoin="round"/>
<path d="M292.1 318.4 L292.7 317.1 L293.2 315.7 L293.8 314.3 L294.4 312.9 L295.0 311.5 L295.5 310.1 L296.1 308.8 L296.7 307.4 L297.3 306.0 L297.9 304.6 L298.4 303.2 L299.0 301.8 L299.6 300.5 L300.2 299.1 L300.8 297.7 L301.3 296.3 L301.9 294.9 L302.5 293.6 L303.1 292.2 L303.7 290.8 L304.2 289.4 L304.8 288.0 L305.4 286.7 L306.0 285.3 L306.6 283.9 L307.2 282.5 L307.8 281.1 L308.4 279.8 L309.0 278.4 L309.5 277.0 L310.1 275.6 L310.7 274.3 L311.3 272.9 L311.9 271.5 L312.5 270.1 L313.1 268.8 L313.8 267.4 L314.4 266.0 L315.0 264.6 L315.6 263.3 L316.2 261.9 L316.8 260.5 L317.4 259.2 L318.1 257.8 L318.7 256.5 L319.3 255.1 L319.9 253.7 L320.6 252.4 L321.2 251.0 L321.8 249.7 L322.5 248.3 L323.1 246.9 L323.8 245.6 L324.4 244.2 L325.1 242.9 L325.7 241.5 L326.4 240.2 L327.1 238.8 L327.7 237.5 L328.4 236.2 L329.1 234.8 L329.8 233.5 L330.4 232.1 L331.1 230.8 L331.8 229.5 L332.5 228.1 L333.2 226.8 L333.9 225.5 L334.6 224.2 L335.3 222.8 L336.0 221.5 L336.7 220.2 L337.5 218.9 L338.2 217.6 L338.9 216.3 L339.6 214.9 L340.4 213.6 L341.1 212.3 L341.8 211.0 L342.6 209.7 L343.3 208.4 L344.1 207.1 L344.9 205.9 L345.6 204.6 L346.4 203.3 L347.2 202.0 L347.9 200.7 L348.7 199.4 L349.5 198.2 L350.3 196.9 L351.1 195.6 L351.9 194.4 L352.7 193.1 L353.5 191.8 L354.3 190.6 L355.1 189.3 L355.9 188.1 L356.8 186.8 L357.6 185.6 L358.4 184.3 L359.3 183.1 L360.1 181.9 L361.0 180.6 L361.8 179.4 L362.7 178.2 L363.6 177.0 L364.4 175.8 L365.3 174.5 L366.2 173.3 L367.1 172.1 L368.0 170.9 L368.9 169.7 L369.8 168.5 L370.7 167.3 L371.6 166.2 L372.5 165.0 L373.5 163.8 L374.4 162.6 L375.3 161.4 L376.3 160.3 L377.2 159.1 L378.1 157.9 L379.1 156.8 L380.0 155.6 L381.0 154.5 L382.0 153.3 L382.9 152.2 L383.9 151.0 L384.8 149.9 L385.8 148.7 L386.8 147.6 L387.8 146.4 L388.8 145.3 L389.7 144.1 L390.7 143.0 L391.7 141.9 L392.7 140.7 L393.7 139.6 L394.7 138.5 L395.7 137.4 L396.7 136.2 L397.7 135.1 L398.7 134.0 L399.8 133.0 L400.8 131.9 L401.9 130.9 L403.0 129.8 L404.1 128.8 L405.2 127.9 L406.4 126.9 L407.5 126.0 L408.7 125.1 L410.0 124.2 L411.2 123.4 L412.5 122.6 L413.7 121.8 L415.0 121.0 L416.3 120.3 L417.7 119.6 L419.0 118.9 L420.3 118.2 L421.6 117.5 L422.9 116.8 L424.2 116.0 L425.5 115.2 L426.8 114.5 L428.0 113.7 L429.3 112.9 L430.6 112.1 L432.0 111.4 L433.3 110.7 L434.7 110.1 L436.1 109.5 L437.5 109.1 L439.0 108.7 L440.4 108.5 L441.9 108.5 L443.4 108.5 L444.9 108.7 L446.3 109.0 L447.8 109.4 L449.1 110.0 L450.5 110.6 L451.8 111.3 L453.0 112.1 L454.2 112.9 L455.4 113.9 L456.6 114.8 L457.7 115.8 L458.8 116.9 L459.9 117.9 L461.0 119.0 L462.1 120.1 L463.1 121.2 L464.2 122.3 L465.2 123.4 L466.3 124.5 L467.3 125.6 L468.3 126.7 L469.3 127.8 L470.3 128.9 L471.3 130.0 L472.3 131.1 L473.3 132.2 L474.3 133.3 L475.3 134.5 L476.2 135.6 L477.2 136.7 L478.2 137.8 L479.2 139.0 L480.1 140.1 L481.1 141.2 L482.1 142.4 L483.0 143.5 L484.0 144.6 L485.0 145.8 L485.9 146.9 L486.9 148.1 L487.9 149.2 L488.8 150.4 L489.8 151.5 L490.7 152.7 L491.7 153.8 L492.6 155.0 L493.6 156.2 L494.6 157.3 L495.5 158.5 L496.5 159.6 L497.4 160.8 L498.4 162.0 L499.4 163.1 L500.3 164.3 L501.3 165.4 L502.2 166.6 L503.2 167.7 L504.2 168.9 L505.1 170.1 L506.1 171.2 L507.0 172.4 L508.0 173.5 L509.0 174.7 L509.9 175.8 L510.9 177.0 L511.9 178.1 L512.8 179.3 L513.8 180.4 L514.8 181.6 L515.7 182.7 L516.7 183.9 L517.6 185.0 L518.6 186.2 L519.5 187.3 L520.5 188.5 L521.4 189.7 L522.4 190.8 L523.3 192.0 L524.2 193.2 L525.1 194.4 L526.0 195.6 L526.9 196.7 L527.8 197.9 L528.7 199.1 L529.6 200.4 L530.5 201.6 L531.4 202.8 L532.2 204.0 L533.1 205.2 L534.0 206.4 L534.8 207.7 L535.7 208.9 L536.5 210.1 L537.3 211.4 L538.2 212.6 L539.0 213.8 L539.8 215.1 L540.7 216.3 L541.5 217.6 L542.3 218.9 L543.1 220.1 L543.9 221.4 L544.7 222.7 L545.5 223.9 L546.3 225.2 L547.1 226.5 L547.8 227.8 L548.6 229.0 L549.4 230.3 L550.1 231.6 L550.9 232.9 L551.7 234.2 L552.4 235.5 L553.2 236.8 L553.9 238.1 L554.6 239.4 L555.4 240.7 L556.1 242.0 L556.8 243.3 L557.6 244.6 L558.3 245.9 L559.0 247.3 L559.7 248.6 L560.4 249.9 L561.1 251.2 L561.8 252.6 L562.5 253.9 L563.2 255.2 L563.9 256.5 L564.6 257.9 L565.3 259.2 L566.0 260.5 L566.7 261.9 L567.4 263.2 L568.0 264.6 L568.7 265.9 L569.4 267.3 L570.0 268.6 L570.7 269.9 L571.4 271.3 L572.0 272.6 L572.7 274.0 L573.3 275.4 L574.0 276.7 L574.6 278.1 L575.3 279.4 L575.9 280.8 L576.5 282.1 L577.2 283.5 L577.8 284.8 L578.4 286.2 L579.1 287.6 L579.7 288.9 L580.3 290.3 L581.0 291.7 L581.6 293.0 L582.2 294.4 L582.8 295.7 L583.4 297.1 L584.1 298.5 L584.7 299.8 L585.3 301.2 L585.9 302.6 L586.5 303.9 L587.1 305.3 L587.8 306.7 L588.4 308.0 L589.0 309.4 L589.6 310.8 L590.2 312.1 L590.8 313.5 L591.4 314.9 L592.1 316.2 L592.7 317.6 L593.3 319.0 L593.9 320.3 L594.5 321.7 L595.1 323.1 L595.7 324.4 L596.4 325.8 L597.0 327.2 L597.6 328.5 L598.2 329.9 L598.8 331.2 L599.5 332.6 L600.1 334.0 L600.7 335.3 L601.4 336.7 L602.0 338.0 L602.6 339.4 L603.3 340.7 L603.9 342.1 L604.5 343.5 L605.2 344.8 L605.8 346.2 L606.5 347.5 L607.1 348.9 L607.8 350.2 L608.4 351.5 L609.1 352.9 L609.7 354.2 L610.4 355.6 L611.1 356.9 L611.7 358.3 L612.4 359.6 L613.1 360.9 L613.8 362.3 L614.5 363.6 L615.1 364.9 L615.8 366.3 L616.5 367.6 L617.2 368.9 L617.9 370.3 L618.6 371.6 L619.3 372.9 L620.0 374.2 L620.7 375.6 L621.4 376.9 L622.1 378.2 L622.8 379.5 L623.5 380.8 L624.2 382.2 L625.0 383.5 L625.7 384.8 L626.4 386.1 L627.1 387.4 L627.8 388.7 L628.6 390.0 L629.3 391.4 L630.0 392.7 L630.8 394.0 L631.5 395.3 L632.2 396.6 L633.0 397.9 L633.7 399.2 L634.5 400.5 L635.2 401.8 L636.0 403.1 L636.7 404.4 L637.5 405.7 L638.2 407.0 L639.0 408.3 L639.7 409.6 L640.5 410.9 L641.3 412.2 L642.0 413.5 L642.8 414.8 L643.6 416.0 L644.3 417.3 L645.1 418.6 L645.9 419.9 L646.6 421.2 L647.4 422.5 L648.2 423.8 L649.0 425.0 L649.8 426.3 L650.5 427.6 L651.3 428.9 L652.1 430.2 L652.9 431.4 L653.7 432.7 L654.5 434.0 L655.3 435.2 L656.1 436.5 L656.9 437.8 L657.8 439.0 L658.6 440.3 L659.4 441.5 L660.2 442.8 L661.1 444.0 L661.9 445.3 L662.7 446.5 L663.6 447.7 L664.4 449.0 L665.3 450.2 L666.1 451.4 L667.0 452.6 L667.9 453.9 L668.7 455.1 L669.6 456.3 L670.5 457.5 L671.4 458.7 L672.3 459.9 L673.2 461.1 L674.1 462.2 L675.0 463.4 L675.9 464.6 L676.9 465.8 L677.8 466.9 L678.7 468.1 L679.7 469.2 L680.6 470.4 L681.6 471.5 L682.6 472.7 L683.5 473.8 L684.5 474.9 L685.5 476.0 L686.5 477.1 L687.5 478.2 L688.5 479.3 L689.5 480.4 L690.6 481.5 L691.6 482.6 L692.6 483.7 L693.7 484.7 L694.8 485.8 L695.8 486.8 L696.9 487.9 L698.0 488.9 L699.1 490.0 L700.2 491.0 L701.3 492.0 L702.4 493.0 L703.6 494.0 L704.7 495.0 L705.8 496.0 L707.0 496.9 L708.2 497.9 L709.3 498.8 L710.5 499.8 L711.7 500.7 L712.9 501.6 L714.1 502.5 L715.3 503.4 L716.6 504.3 L717.8 505.2 L719.0 506.0 L720.3 506.9 L721.5 507.7 L722.8 508.5 L724.1 509.4 L725.4 510.2 L726.6 510.9 L727.9 511.7 L729.2 512.5 L730.5 513.2 L731.9 513.9 L733.2 514.6 L734.5 515.3 L735.9 516.0 L737.2 516.7 L738.5 517.3 L739.9 518.0 L741.3 518.6 L742.6 519.2 L744.0 519.8 L745.4 520.3 L746.8 520.9 L748.2 521.4 L749.6 521.9 L751.0 522.4 L752.4 522.9 L753.8 523.4 L755.3 523.8 L756.7 524.2 L758.1 524.6 L759.6 525.0 L761.0 525.4 L762.5 525.7 L763.9 526.0 L765.4 526.3 L766.9 526.6 L768.4 526.9 L769.8 527.1" fill="none" stroke="#000000" stroke-width="2.1" stroke-linejoin="round"/>
</g>
<line x1="442.95" y1="94.77" x2="442.95" y2="497.10" stroke="#000" stroke-width="2.05" stroke-dasharray="12.15 6.43"/>
<rect x="442.05" y="533.8" width="1.80" height="1.1" fill="#000"/>
<rect x="119.60" y="95.00" width="650.50" height="447.90" fill="none" stroke="#000" stroke-width="2.15"/>
<line x1="119.60" y1="101.20" x2="123.30" y2="101.20" stroke="#000" stroke-width="2.05"/>
<line x1="770.10" y1="101.20" x2="766.40" y2="101.20" stroke="#000" stroke-width="2.05"/>
<line x1="119.60" y1="114.26" x2="123.30" y2="114.26" stroke="#000" stroke-width="2.05"/>
<line x1="770.10" y1="114.26" x2="766.40" y2="114.26" stroke="#000" stroke-width="2.05"/>
<line x1="119.60" y1="139.72" x2="123.30" y2="139.72" stroke="#000" stroke-width="2.05"/>
<line x1="770.10" y1="139.72" x2="766.40" y2="139.72" stroke="#000" stroke-width="2.05"/>
<line x1="119.60" y1="158.99" x2="126.40" y2="158.99" stroke="#000" stroke-width="2.05"/>
<line x1="770.10" y1="158.99" x2="763.30" y2="158.99" stroke="#000" stroke-width="2.05"/>
<line x1="119.60" y1="165.19" x2="123.30" y2="165.19" stroke="#000" stroke-width="2.05"/>
<line x1="770.10" y1="165.19" x2="766.40" y2="165.19" stroke="#000" stroke-width="2.05"/>
<line x1="119.60" y1="178.25" x2="123.30" y2="178.25" stroke="#000" stroke-width="2.05"/>
<line x1="770.10" y1="178.25" x2="766.40" y2="178.25" stroke="#000" stroke-width="2.05"/>
<line x1="119.60" y1="203.71" x2="123.30" y2="203.71" stroke="#000" stroke-width="2.05"/>
<line x1="770.10" y1="203.71" x2="766.40" y2="203.71" stroke="#000" stroke-width="2.05"/>
<line x1="119.60" y1="222.97" x2="126.40" y2="222.97" stroke="#000" stroke-width="2.05"/>
<line x1="770.10" y1="222.97" x2="763.30" y2="222.97" stroke="#000" stroke-width="2.05"/>
<line x1="119.60" y1="229.17" x2="123.30" y2="229.17" stroke="#000" stroke-width="2.05"/>
<line x1="770.10" y1="229.17" x2="766.40" y2="229.17" stroke="#000" stroke-width="2.05"/>
<line x1="119.60" y1="242.23" x2="123.30" y2="242.23" stroke="#000" stroke-width="2.05"/>
<line x1="770.10" y1="242.23" x2="766.40" y2="242.23" stroke="#000" stroke-width="2.05"/>
<line x1="119.60" y1="267.70" x2="123.30" y2="267.70" stroke="#000" stroke-width="2.05"/>
<line x1="770.10" y1="267.70" x2="766.40" y2="267.70" stroke="#000" stroke-width="2.05"/>
<line x1="119.60" y1="286.96" x2="126.40" y2="286.96" stroke="#000" stroke-width="2.05"/>
<line x1="770.10" y1="286.96" x2="763.30" y2="286.96" stroke="#000" stroke-width="2.05"/>
<line x1="119.60" y1="293.16" x2="123.30" y2="293.16" stroke="#000" stroke-width="2.05"/>
<line x1="770.10" y1="293.16" x2="766.40" y2="293.16" stroke="#000" stroke-width="2.05"/>
<line x1="119.60" y1="306.22" x2="123.30" y2="306.22" stroke="#000" stroke-width="2.05"/>
<line x1="770.10" y1="306.22" x2="766.40" y2="306.22" stroke="#000" stroke-width="2.05"/>
<line x1="119.60" y1="331.68" x2="123.30" y2="331.68" stroke="#000" stroke-width="2.05"/>
<line x1="770.10" y1="331.68" x2="766.40" y2="331.68" stroke="#000" stroke-width="2.05"/>
<line x1="119.60" y1="350.94" x2="126.40" y2="350.94" stroke="#000" stroke-width="2.05"/>
<line x1="770.10" y1="350.94" x2="763.30" y2="350.94" stroke="#000" stroke-width="2.05"/>
<line x1="119.60" y1="357.14" x2="123.30" y2="357.14" stroke="#000" stroke-width="2.05"/>
<line x1="770.10" y1="357.14" x2="766.40" y2="357.14" stroke="#000" stroke-width="2.05"/>
<line x1="119.60" y1="370.20" x2="123.30" y2="370.20" stroke="#000" stroke-width="2.05"/>
<line x1="770.10" y1="370.20" x2="766.40" y2="370.20" stroke="#000" stroke-width="2.05"/>
<line x1="119.60" y1="395.67" x2="123.30" y2="395.67" stroke="#000" stroke-width="2.05"/>
<line x1="770.10" y1="395.67" x2="766.40" y2="395.67" stroke="#000" stroke-width="2.05"/>
<line x1="119.60" y1="414.93" x2="126.40" y2="414.93" stroke="#000" stroke-width="2.05"/>
<line x1="770.10" y1="414.93" x2="763.30" y2="414.93" stroke="#000" stroke-width="2.05"/>
<line x1="119.60" y1="421.13" x2="123.30" y2="421.13" stroke="#000" stroke-width="2.05"/>
<line x1="770.10" y1="421.13" x2="766.40" y2="421.13" stroke="#000" stroke-width="2.05"/>
<line x1="119.60" y1="434.19" x2="123.30" y2="434.19" stroke="#000" stroke-width="2.05"/>
<line x1="770.10" y1="434.19" x2="766.40" y2="434.19" stroke="#000" stroke-width="2.05"/>
<line x1="119.60" y1="459.65" x2="123.30" y2="459.65" stroke="#000" stroke-width="2.05"/>
<line x1="770.10" y1="459.65" x2="766.40" y2="459.65" stroke="#000" stroke-width="2.05"/>
<line x1="119.60" y1="478.91" x2="126.40" y2="478.91" stroke="#000" stroke-width="2.05"/>
<line x1="770.10" y1="478.91" x2="763.30" y2="478.91" stroke="#000" stroke-width="2.05"/>
<line x1="119.60" y1="485.12" x2="123.30" y2="485.12" stroke="#000" stroke-width="2.05"/>
<line x1="770.10" y1="485.12" x2="766.40" y2="485.12" stroke="#000" stroke-width="2.05"/>
<line x1="119.60" y1="498.18" x2="123.30" y2="498.18" stroke="#000" stroke-width="2.05"/>
<line x1="770.10" y1="498.18" x2="766.40" y2="498.18" stroke="#000" stroke-width="2.05"/>
<line x1="119.60" y1="523.64" x2="123.30" y2="523.64" stroke="#000" stroke-width="2.05"/>
<line x1="770.10" y1="523.64" x2="766.40" y2="523.64" stroke="#000" stroke-width="2.05"/>
<line x1="249.90" y1="542.90" x2="249.90" y2="536.90" stroke="#000" stroke-width="2.05"/>
<line x1="249.90" y1="95.00" x2="249.90" y2="101.00" stroke="#000" stroke-width="2.05"/>
<line x1="315.90" y1="542.90" x2="315.90" y2="536.90" stroke="#000" stroke-width="2.05"/>
<line x1="315.90" y1="95.00" x2="315.90" y2="101.00" stroke="#000" stroke-width="2.05"/>
<line x1="367.60" y1="542.90" x2="367.60" y2="536.90" stroke="#000" stroke-width="2.05"/>
<line x1="367.60" y1="95.00" x2="367.60" y2="101.00" stroke="#000" stroke-width="2.05"/>
<line x1="403.90" y1="542.90" x2="403.90" y2="536.90" stroke="#000" stroke-width="2.05"/>
<line x1="403.90" y1="95.00" x2="403.90" y2="101.00" stroke="#000" stroke-width="2.05"/>
<line x1="442.90" y1="542.90" x2="442.90" y2="536.90" stroke="#000" stroke-width="2.05"/>
<line x1="442.90" y1="95.00" x2="442.90" y2="101.00" stroke="#000" stroke-width="2.05"/>
<line x1="482.30" y1="542.90" x2="482.30" y2="536.90" stroke="#000" stroke-width="2.05"/>
<line x1="482.30" y1="95.00" x2="482.30" y2="101.00" stroke="#000" stroke-width="2.05"/>
<line x1="518.20" y1="542.90" x2="518.20" y2="536.90" stroke="#000" stroke-width="2.05"/>
<line x1="518.20" y1="93.30" x2="518.20" y2="99.70" stroke="#000" stroke-width="2.05"/>
<line x1="567.80" y1="542.90" x2="567.80" y2="536.90" stroke="#000" stroke-width="2.05"/>
<line x1="567.80" y1="95.00" x2="567.80" y2="101.00" stroke="#000" stroke-width="2.05"/>
<line x1="637.00" y1="542.90" x2="637.00" y2="536.90" stroke="#000" stroke-width="2.05"/>
<line x1="637.00" y1="95.00" x2="637.00" y2="101.00" stroke="#000" stroke-width="2.05"/>
</svg>
<div id="txt">
<div class="t" id="x0" style="left:108.63px;top:547.00px;font-size:18.7px;transform:scaleX(0.9180)">5.7</div>
<div class="t" id="x1" style="left:236.77px;top:547.00px;font-size:18.7px;transform:scaleX(0.9180)">5.0</div>
<div class="t" id="x2" style="left:303.83px;top:547.00px;font-size:18.7px;transform:scaleX(0.9180)">4.0</div>
<div class="t" id="x3" style="left:353.52px;top:547.00px;font-size:18.7px;transform:scaleX(0.9180)">3.0</div>
<div class="t" id="x4" style="left:390.45px;top:547.00px;font-size:18.7px;transform:scaleX(0.9180)">2.0</div>
<div class="t" id="x5" style="left:430.32px;top:547.00px;font-size:18.7px;transform:scaleX(0.9180)">1.3</div>
<div class="t" id="x6" style="left:468.15px;top:547.00px;font-size:18.7px;transform:scaleX(0.9180)">2.0</div>
<div class="t" id="x7" style="left:506.27px;top:547.00px;font-size:18.7px;transform:scaleX(0.9180)">3.0</div>
<div class="t" id="x8" style="left:554.43px;top:547.00px;font-size:18.7px;transform:scaleX(0.9180)">4.0</div>
<div class="t" id="x9" style="left:625.02px;top:547.00px;font-size:18.7px;transform:scaleX(0.9180)">5.0</div>
<div class="t" id="x10" style="left:758.48px;top:547.00px;font-size:18.7px;transform:scaleX(0.9180)">5.7</div>
<div class="t" id="y21" style="left:83.55px;top:88.30px;font-size:18.7px;transform:scaleX(0.8970)">10<span style="font-size:11.2px;position:relative;top:-6.9px;margin-left:1.8px">21</span></div>
<div class="t" id="y20" style="left:83.55px;top:155.90px;font-size:18.7px;transform:scaleX(0.8970)">10<span style="font-size:11.2px;position:relative;top:-6.9px;margin-left:1.8px">20</span></div>
<div class="t" id="y19" style="left:83.55px;top:219.90px;font-size:18.7px;transform:scaleX(0.8970)">10<span style="font-size:11.2px;position:relative;top:-6.9px;margin-left:1.8px">19</span></div>
<div class="t" id="y18" style="left:83.55px;top:282.90px;font-size:18.7px;transform:scaleX(0.8970)">10<span style="font-size:11.2px;position:relative;top:-6.9px;margin-left:1.8px">18</span></div>
<div class="t" id="y17" style="left:83.55px;top:344.50px;font-size:18.7px;transform:scaleX(0.8970)">10<span style="font-size:11.2px;position:relative;top:-6.9px;margin-left:1.8px">17</span></div>
<div class="t" id="y16" style="left:83.55px;top:410.00px;font-size:18.7px;transform:scaleX(0.8970)">10<span style="font-size:11.2px;position:relative;top:-6.9px;margin-left:1.8px">16</span></div>
<div class="t" id="y15" style="left:83.55px;top:474.00px;font-size:18.7px;transform:scaleX(0.8970)">10<span style="font-size:11.2px;position:relative;top:-6.9px;margin-left:1.8px">15</span></div>
<div class="t" id="y14" style="left:83.56px;top:535.00px;font-size:18.7px;transform:scaleX(0.8902)">10<span style="font-size:11.2px;position:relative;top:-6.9px;margin-left:1.8px">14</span></div>
<div class="t" id="xl" style="left:341.25px;top:578.50px;font-size:20.0px;transform:scaleX(0.9425)">Distance to the sun (AU)</div>
<div class="t" id="nom" style="left:239.03px;top:319.30px;font-size:24.5px;transform:scaleX(0.9832)">Nominal</div>
<div class="t" id="c5" style="left:329.87px;top:346.00px;font-size:24.5px;transform:scaleX(0.9287)">5 cm</div>
<div class="t" id="c10" style="left:323.18px;top:483.80px;font-size:24.5px;transform:scaleX(0.9249)">10 cm</div>
<div class="t" id="c30" style="left:372.57px;top:408.00px;font-size:24.5px;transform:scaleX(0.9281)">30 cm</div>
<div class="t" id="c50" style="left:461.16px;top:402.00px;font-size:24.5px;transform:scaleX(0.9391)">50 cm</div>
<div class="t" id="per" style="left:391.69px;top:503.10px;font-size:24.5px;transform:scaleX(0.9558)">Perihelion</div>
<div class="t" id="h2o" style="left:163.05px;top:113.00px;font-size:24.5px;transform:scaleX(0.9236)">H<span style="font-size:13.4px;position:relative;top:7.9px;margin:0 0 0 0.2px">2</span>O</div>
<div class="t" id="yl" style="left:0;top:0;font-size:19.6px;transform:translate(38.30px,383.36px) rotate(-90deg) scaleX(0.9563)">Q (mol m<span style="font-size:11.4px;position:relative;top:-6.9px">-2</span> s<span style="font-size:11.4px;position:relative;top:-6.9px">-1</span>)</div>
</div>
<svg width="817" height="632" viewBox="0 0 817 632" style="position:absolute;left:0;top:0;pointer-events:none"><path d="M422.2 531.1 L422.5 529.6 L422.8 528.1 L423.1 526.7 L423.4 525.2 L423.7 523.7 L424.0 522.3 L424.3 520.8 L424.6 519.3 L424.9 517.9 L425.3 516.4 L425.6 514.9 L425.9 513.5 L426.2 512.0 L426.5 510.5 L426.8 509.0 L427.1 507.6 L427.5 506.1 L427.8 504.6 L428.1 503.2 L428.4 501.7 L428.7 500.2 L429.1 498.7" fill="none" stroke="#828282" stroke-width="2.05"/></svg>
</body></html>
